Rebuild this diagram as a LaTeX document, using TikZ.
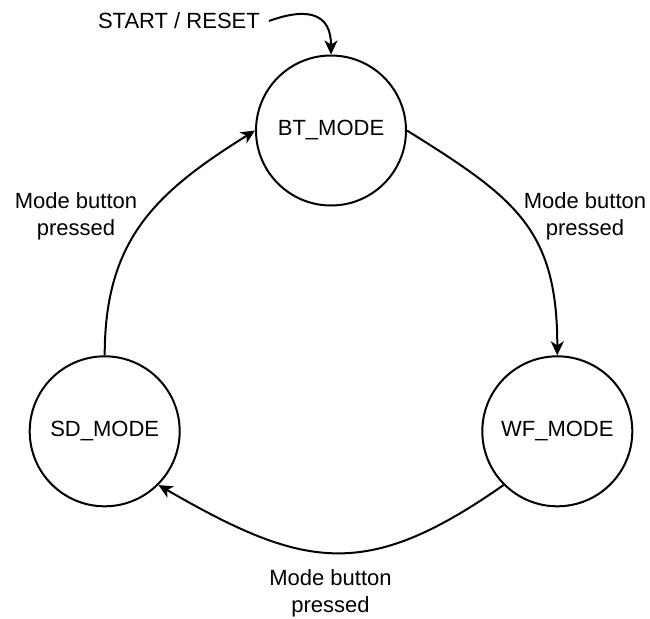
\documentclass[tikz,border=0pt]{standalone}
\usepackage{fontspec}
\setmainfont{Liberation Sans}
\usetikzlibrary{arrows.meta,positioning}
\tikzset{modenode/.style = {circle, draw, line width=2pt, minimum size=150pt,
                            inner sep=0pt, font=\fontsize{22}{27}\selectfont},
        edgelabel/.style = {align=center, inner sep=0pt,
                            font=\fontsize{22}{27}\selectfont},
        trans/.style = {line width=2pt,
                        -{Stealth[length=14pt,width=13pt,inset=4pt]}},
        }

\begin{document}
\begin{tikzpicture}[x=1pt,y=-1pt]
    \useasboundingbox (0,0) rectangle (650,618);

    \node[modenode] (bt) at (331,130.5) {BT\_MODE};
    \node[modenode] (wf) at (557.3,431.3) {WF\_MODE};
    \node[modenode] (sd) at (104.7,431.3) {SD\_MODE};

    \node[edgelabel, anchor=east] (reset) at (260,21) {START / RESET};
    \coordinate (resetend) at (269,21);

    \node[edgelabel] (lblleft) at (76,216) {Mode button\\pressed};
    \node[edgelabel] (lblright) at (585,216) {Mode button\\pressed};
    \node[edgelabel] (lblbottom) at (330.5,593) {Mode button\\pressed};

    % transitions
    \draw[trans] (resetend) to[out=20,in=90,looseness=1.5] (bt.north);
    \draw[trans] (bt.east) to[out=-32,in=90,looseness=1.2] (wf.north);
    \draw[trans] (wf.225) to[out=-145,in=-30,looseness=1.25] (sd.-45);
    \draw[trans] (sd.north) to[out=90,in=212,looseness=1.1] (bt.west);
\end{tikzpicture}
\end{document}
